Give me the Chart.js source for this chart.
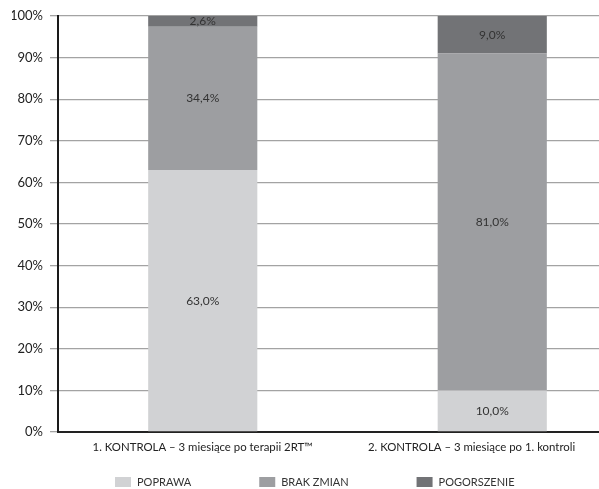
<!DOCTYPE html>
<html lang="pl">
<head>
<meta charset="utf-8">
<title>Wyniki kontroli</title>
<script src="https://cdn.jsdelivr.net/npm/chart.js@4"></script>
<style>
  html, body { margin: 0; padding: 0; background: #fff; overflow: hidden; }
  #wrap { width: 637px; height: 489px; }
</style>
</head>
<body>
<div id="wrap"><canvas id="chart" width="637" height="489"></canvas></div>
<script>
// Kategorie (kolejne kontrole)
const categories = [
  '1. KONTROLA \u2013 3 miesiące po terapii 2RT\u2122',
  '2. KONTROLA \u2013 3 miesiące po 1. kontroli'
];
// Odsetek pacjentów w każdej grupie (%)
const poprawa = [63.0, 10.0];
const brakZmian = [34.4, 81.0];
const pogorszenie = [2.6, 9.0];
// Podziałka osi Y
const yTicks = [0, 10, 20, 30, 40, 50, 60, 70, 80, 90, 100];

// Podpisy kategorii stoją na osi pomocniczej podzielonej na 28 odcinków
const labelSlots = 28;
const labelSlotOf = [7, 20];
const slotLabels = Array.from({ length: labelSlots + 1 }, (_, i) => {
  const k = labelSlotOf.indexOf(i);
  return k >= 0 ? categories[k] : '';
});

const FONT = 'Lato, "Open Sans", sans-serif';
const colors = { poprawa: '#d1d2d4', brak: '#9d9ea1', pogorszenie: '#727376' };

const fmt = v => v.toFixed(1).replace('.', ',') + '%';

// Etykiety wartości w środku każdego segmentu słupka
const valueLabels = {
  id: 'valueLabels',
  afterDatasetsDraw(chart) {
    const ctx = chart.ctx;
    ctx.save();
    ctx.font = '12px ' + FONT;
    ctx.fillStyle = '#333';
    ctx.textAlign = 'center';
    ctx.textBaseline = 'middle';
    chart.data.datasets.forEach((ds, di) => {
      const meta = chart.getDatasetMeta(di);
      meta.data.forEach((bar, i) => {
        const p = bar.getProps(['x', 'y', 'base'], true);
        ctx.fillText(fmt(ds.data[i]), p.x, (p.y + p.base) / 2);
      });
    });
    ctx.restore();
  }
};

// Legenda pod wykresem: kwadrat + opis, szeroko rozstawione pozycje
const wideLegend = {
  id: 'wideLegend',
  afterDraw(chart) {
    const ctx = chart.ctx;
    const boxW = 16, boxH = 10, textGap = 6, itemGap = 68;
    const startX = 115, centerY = 482;
    ctx.save();
    ctx.font = '11px ' + FONT;
    let x = startX;
    ctx.textBaseline = 'middle';
    ctx.textAlign = 'left';
    chart.data.datasets.forEach(ds => {
      ctx.fillStyle = ds.backgroundColor;
      ctx.fillRect(x, centerY - boxH / 2, boxW, boxH);
      ctx.fillStyle = '#333';
      ctx.fillText(ds.label, x + boxW + textGap, centerY + 0.5);
      x += boxW + textGap + ctx.measureText(ds.label).width + itemGap;
    });
    ctx.restore();
  }
};

new Chart(document.getElementById('chart'), {
  type: 'bar',
  data: {
    labels: categories,
    datasets: [
      { label: 'POPRAWA', data: poprawa, backgroundColor: colors.poprawa },
      { label: 'BRAK ZMIAN', data: brakZmian, backgroundColor: colors.brak },
      { label: 'POGORSZENIE', data: pogorszenie, backgroundColor: colors.pogorszenie }
    ]
  },
  options: {
    responsive: false,
    animation: false,
    devicePixelRatio: 1,
    layout: { padding: { left: 12, right: 0, top: 16, bottom: 27 } },
    datasets: { bar: { categoryPercentage: 1, barPercentage: 0.377 } },
    plugins: { legend: { display: false }, tooltip: { enabled: false } },
    scales: {
      x: {
        stacked: true,
        grid: { display: false },
        border: { display: true, color: '#222', width: 2 },
        ticks: { display: false },
        afterFit(scale) { scale.height = 0; }
      },
      xl: {
        type: 'category',
        labels: slotLabels,
        position: 'bottom',
        offset: false,
        grid: { display: false },
        border: { display: false },
        ticks: {
          font: { family: FONT, size: 11.4 }, color: '#222', padding: 0,
          maxRotation: 0, minRotation: 0, autoSkip: false
        },
        afterFit(scale) { scale.height = 30; }
      },
      y: {
        stacked: true,
        min: 0, max: 100,
        afterBuildTicks(scale) { scale.ticks = yTicks.map(v => ({ value: v })); },
        ticks: {
          font: { family: FONT, size: 13 }, color: '#222', padding: 7,
          callback: v => v + '%'
        },
        grid: { color: '#a3a3a3', lineWidth: 1.3, tickLength: 8, tickColor: '#a3a3a3' },
        border: { display: true, color: '#1a1a1a', width: 2 },
        afterFit(scale) { scale.width = 46; }
      }
    }
  },
  plugins: [valueLabels, wideLegend]
});
</script>
</body>
</html>
